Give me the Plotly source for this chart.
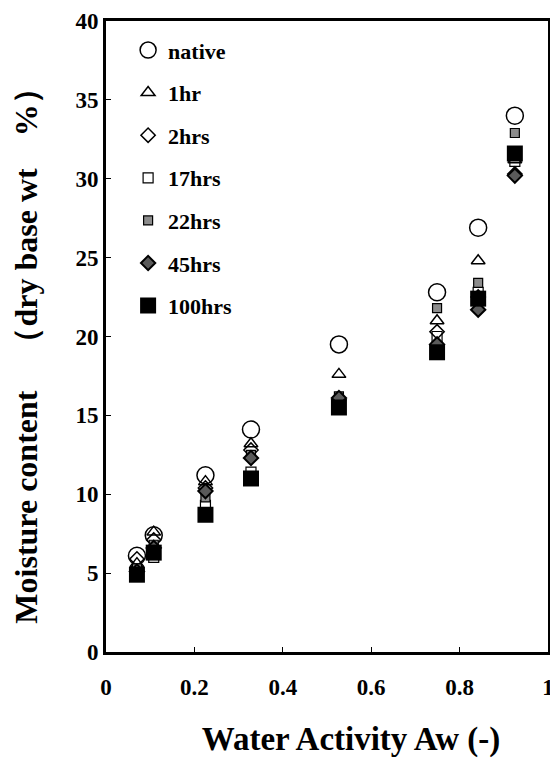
import plotly.graph_objects as go

aw = [0.07, 0.108, 0.225, 0.328, 0.527, 0.749, 0.842, 0.925]

series_names = ["native", "1hr", "2hrs", "17hrs", "22hrs", "45hrs", "100hrs"]
native = [6.1, 7.4, 11.2, 14.1, 19.5, 22.8, 26.9, 34.0]
hr1 = [5.6, 7.6, 10.8, 13.2, 17.6, 21.0, 24.8, 31.2]
hrs2 = [5.9, 7.1, 10.4, 12.8, 16.0, 20.3, 22.5, 30.3]
hrs17 = [5.2, 6.0, 9.3, 11.4, 15.8, 20.0, 22.8, 31.1]
hrs22 = [5.3, 6.8, 9.8, 12.5, 16.2, 21.8, 23.4, 32.9]
hrs45 = [5.1, 6.6, 10.2, 12.3, 16.1, 19.5, 21.7, 30.2]
hrs100 = [4.9, 6.3, 8.7, 11.0, 15.5, 19.0, 22.4, 31.6]

values = [native, hr1, hrs2, hrs17, hrs22, hrs45, hrs100]

styles = [
    dict(symbol="circle-open", size=17, color="black", line=dict(width=1.5, color="black")),
    dict(symbol="triangle-up-open", size=12, color="black", line=dict(width=1.5, color="black")),
    dict(symbol="diamond-open", size=11, color="black", line=dict(width=1.5, color="black")),
    dict(symbol="square-open", size=10, color="black", line=dict(width=1.2, color="black")),
    dict(symbol="square", size=9, color="#8c8c8c", line=dict(width=1.2, color="black")),
    dict(symbol="diamond", size=11, color="#5a5a5a", line=dict(width=2, color="black")),
    dict(symbol="square", size=16, color="black", line=dict(width=0, color="black")),
]

font_family = "Liberation Serif"

fig = go.Figure()
for i, (name, vals, st) in enumerate(zip(series_names, values, styles)):
    fig.add_trace(go.Scatter(
        x=aw, y=vals, mode="markers", name=name,
        legendgroup=f"g{i}",
        marker=st,
    ))

fig.update_layout(
    width=550, height=750,
    margin=dict(l=98, r=10, t=13, b=106),
    paper_bgcolor="white", plot_bgcolor="white",
    font=dict(family=font_family, color="black"),
    showlegend=True,
    legend=dict(
        x=0.05, y=0.987, xanchor="left", yanchor="top",
        bgcolor="rgba(0,0,0,0)",
        font=dict(family=font_family, size=22, color="black", weight="bold"),
        tracegroupgap=11,
        itemsizing="trace",
    ),
)

fig.update_xaxes(
    range=[0, 1], dtick=0.2, tick0=0,
    showgrid=False, zeroline=False,
    showline=True, linewidth=3, linecolor="black", mirror=True,
    ticks="inside", ticklen=5, tickwidth=1, tickcolor="black",
    ticklabelstandoff=12,
    tickfont=dict(family=font_family, size=23, color="black", weight="bold"),
    title=dict(text="\u2800\u2800Water Activity Aw (-)", standoff=30,
               font=dict(family=font_family, size=33, color="black", weight="bold")),
    automargin=False,
)
fig.update_yaxes(
    range=[0, 40], dtick=5, tick0=0,
    showgrid=False, zeroline=False,
    showline=True, linewidth=3, linecolor="black", mirror=True,
    ticks="inside", ticklen=5, tickwidth=1, tickcolor="black",
    tickfont=dict(family=font_family, size=23, color="black", weight="bold"),
    title=dict(text="Moisture content　（dry base wt　%）\u2800", standoff=30,
               font=dict(family=font_family, size=32, color="black", weight="bold")),
    automargin=False,
)

fig.write_html("out.html")
